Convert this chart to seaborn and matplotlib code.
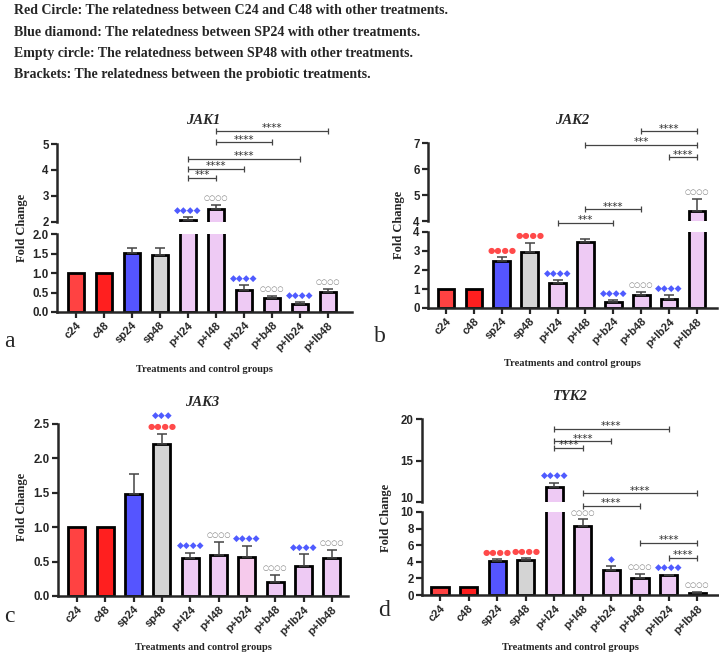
import numpy as np
import matplotlib
matplotlib.use("Agg")
import matplotlib.pyplot as plt
import seaborn as sns

# ---- data ----
groups = ['c24', 'c48', 'sp24', 'sp48', 'p+l24', 'p+l48',
          'p+b24', 'p+b48', 'p+lb24', 'p+lb48']

jak1_mean = [1.0, 1.0, 1.52, 1.47, 2.09, 2.50, 0.57, 0.35, 0.20, 0.51]
jak1_err = [0, 0, 0.13, 0.16, 0.10, 0.14, 0.12, 0.05, 0.05, 0.07]

jak2_mean = [1.0, 1.0, 2.49, 2.97, 1.32, 3.48, 0.31, 0.70, 0.50, 4.40]
jak2_err = [0, 0, 0.19, 0.46, 0.14, 0.17, 0.11, 0.15, 0.18, 0.43]

jak3_mean = [1.0, 1.0, 1.48, 2.21, 0.55, 0.59, 0.57, 0.20, 0.44, 0.55]
jak3_err = [0, 0, 0.30, 0.15, 0.08, 0.19, 0.16, 0.11, 0.17, 0.12]

tyk2_mean = [1.0, 1.0, 4.10, 4.20, 11.77, 8.35, 3.00, 2.00, 2.37, 0.24]
tyk2_err = [0, 0, 0.23, 0.20, 0.57, 0.75, 0.45, 0.50, 0.08, 0.16]

bar_colors = ['#FF4242', '#FF1F1F', '#5555FF', '#D4D4D4', '#EECAF4', '#EECAF4',
              '#EECAF4', '#EECAF4', '#EECAF4', '#EECAF4']
jak3_colors = bar_colors[:6] + ['#F6CAEC'] + bar_colors[7:]

# significance marks: (bar index, symbols, kind, row)
jak1_marks = [(4, '◆◆◆◆', 'b', 0), (5, '○○○○', 'g', 0), (6, '◆◆◆◆', 'b', 0),
              (7, '○○○○', 'g', 0), (8, '◆◆◆◆', 'b', 0), (9, '○○○○', 'g', 0)]
jak2_marks = [(2, '●●●●', 'r', 0), (3, '●●●●', 'r', 0), (4, '◆◆◆◆', 'b', 0),
              (6, '◆◆◆◆', 'b', 0), (7, '○○○○', 'g', 0), (8, '◆◆◆◆', 'b', 0),
              (9, '○○○○', 'g', 0)]
jak3_marks = [(3, '●●●●', 'r', 0), (3, '◆◆◆', 'b', 1), (4, '◆◆◆◆', 'b', 0),
              (5, '○○○○', 'g', 0), (6, '◆◆◆◆', 'b', 0), (7, '○○○○', 'g', 0),
              (8, '◆◆◆◆', 'b', 0), (9, '○○○○', 'g', 0)]
tyk2_marks = [(2, '●●●●', 'r', 0), (3, '●●●●', 'r', 0), (4, '◆◆◆◆', 'b', 0),
              (5, '○○○○', 'g', 0), (6, '◆', 'b', 0), (7, '○○○○', 'g', 0),
              (8, '◆◆◆◆', 'b', 0), (9, '○○○○', 'g', 0)]

# brackets between probiotic treatments: (axis, from, to, height, stars)
jak1_brackets = [('hi', 4, 5, 3.69, '***'), ('hi', 4, 6, 4.03, '****'),
                 ('hi', 4, 8, 4.42, '****'), ('hi', 5, 7, 5.06, '****'),
                 ('hi', 5, 9, 5.49, '****')]
jak2_brackets = [('lo', 4, 6, 4.47, '***'), ('hi', 5, 7, 4.45, '****'),
                 ('hi', 5, 9, 6.94, '***'), ('hi', 7, 9, 7.45, '****'),
                 ('hi', 8, 9, 6.45, '****')]
jak3_brackets = []
tyk2_brackets = [('hi', 4, 8, 18.83, '****'), ('hi', 4, 6, 17.3, '****'),
                 ('hi', 4, 5, 16.5, '****'), ('hi', 5, 9, 11.05, '****'),
                 ('lo', 5, 7, 10.76, '****'), ('lo', 7, 9, 6.3, '****'),
                 ('lo', 8, 9, 4.5, '****')]

header_lines = [
    'Red Circle: The relatedness between C24 and C48 with other treatments.',
    'Blue diamond: The relatedness between SP24 with other treatments.',
    'Empty circle: The relatedness between SP48 with other treatments.',
    'Brackets: The relatedness between the probiotic treatments.',
]

W, H = 719, 655
MARK_COLORS = {'b': '#4F5BFF', 'r': '#FF4A4A', 'g': '#808080'}
MARK_SIZES = {'b': 6.5, 'r': 6.0, 'g': 5.0}
SERIF = 'Liberation Serif'
SANS = 'Liberation Sans'

sns.set_style("ticks")
plt.rcParams['font.family'] = [SANS, 'DejaVu Sans']


def box(left, top, right, bottom):
    """Pixel box -> figure fraction rect."""
    return [left / W, 1 - bottom / H, (right - left) / W, (bottom - top) / H]


def style_axis(ax, ylim, yticks, fmt, xlim, bottom_axis):
    ax.set_ylim(*ylim)
    ax.set_xlim(*xlim)
    ax.set_yticks(yticks)
    ax.set_yticklabels([fmt.format(t) for t in yticks], fontweight='bold',
                       fontsize=8.3, family=SANS)
    for s in ['top', 'right']:
        ax.spines[s].set_visible(False)
    ax.spines['left'].set_linewidth(1.8)
    ax.spines['bottom'].set_linewidth(1.8)
    ax.tick_params(axis='both', direction='out', length=4, width=1.6, pad=2)
    ax.set_ylabel('')
    ax.set_xlabel('')
    if bottom_axis:
        ax.set_xticks(range(len(groups)))
        ax.set_xticklabels(groups, rotation=45, ha='right', rotation_mode='anchor',
                           fontweight='bold', fontsize=8, family=SANS)
    else:
        ax.spines['bottom'].set_visible(False)
        ax.set_xticks([])


def draw_bars(ax, mean, err, colors):
    sns.barplot(x=groups, y=mean, hue=groups, order=groups, hue_order=groups,
                palette=colors, legend=False, width=0.6, edgecolor='black',
                linewidth=2.0, saturation=1, ax=ax)
    idx = [i for i, e in enumerate(err) if e > 0]
    ax.errorbar(idx, [mean[i] for i in idx],
                yerr=[np.zeros(len(idx)), [err[i] for i in idx]],
                fmt='none', ecolor='#444444', elinewidth=1.1, capsize=3.5,
                capthick=1.1, zorder=1)


def draw_panel(fig, rects, ylims, yticks, fmt, xlim, mean, err, colors,
               marks, brackets, title, title_xy, ylabel_xy, xlabel_y, letter_xy,
               letter, tight_break=False):
    axes = {}
    names = ['hi', 'lo'] if len(rects) == 2 else ['lo']
    for name, rect, yl, yt in zip(names, rects, ylims, yticks):
        ax = fig.add_axes(box(*rect))
        draw_bars(ax, mean, err, colors)
        style_axis(ax, yl, yt, fmt if name == 'lo' else '{:.0f}', xlim, name == 'lo')
        ax.patch.set_alpha(0)
        axes[name] = ax

    # the two labels at a narrow break sit almost on top of each other
    if tight_break:
        axes['hi'].get_yticklabels()[0].set_va('baseline')

    lo_top = ylims[-1][1]
    for i, sym, kind, row in marks:
        top = mean[i] + err[i]
        ax = axes['hi'] if ('hi' in axes and top > lo_top) else axes['lo']
        ax.annotate(sym, (i, top), xytext=(0, 5 + 8 * row), textcoords='offset points',
                    ha='center', va='center', color=MARK_COLORS[kind],
                    fontsize=MARK_SIZES[kind], family='DejaVu Sans',
                    annotation_clip=False)

    for which, i, j, y, stars in brackets:
        ax = axes[which]
        ax.plot([i, j], [y, y], color='#444444', lw=0.9, clip_on=False)
        ax.plot([i, j], [y, y], ls='none', marker='|', ms=5, mew=0.9,
                color='#444444', clip_on=False)
        ax.annotate(stars, ((i + j) / 2, y), xytext=(0, 2.0), textcoords='offset points',
                    ha='center', va='center', fontsize=7.5, color='#333333',
                    family='DejaVu Sans', annotation_clip=False)

    fig.text(title_xy[0] / W, 1 - title_xy[1] / H, title, family=SERIF,
             fontweight='bold', fontstyle='italic', fontsize=10.5, ha='center', va='center')
    fig.text(ylabel_xy[0] / W, 1 - ylabel_xy[1] / H, 'Fold Change', family=SERIF,
             fontweight='bold', fontsize=9, rotation=90, ha='center', va='center')
    left, right = rects[0][0], rects[0][2]
    fig.text((left + right) / 2 / W, 1 - xlabel_y / H, 'Treatments and control groups',
             family=SERIF, fontweight='bold', fontsize=7.5, ha='center', va='center')
    fig.text(letter_xy[0] / W, 1 - letter_xy[1] / H, letter, family=SERIF,
             fontsize=17, ha='center', va='center')


def main():
    fig = plt.figure(figsize=(W / 100, H / 100), dpi=100)

    for k, line in enumerate(header_lines):
        fig.text(14 / W, 1 - (11 + 21.2 * k) / H, line, family=SERIF,
                 fontweight='bold', fontsize=10, ha='left', va='center')

    # JAK1
    draw_panel(fig, [(57, 144, 352, 222), (57, 234, 352, 312)],
               [(2, 5), (0, 2)], [[2, 3, 4, 5], [0, 0.5, 1.0, 1.5, 2.0]], '{:.1f}',
               (-0.68, 9.86), jak1_mean, jak1_err, bar_colors, jak1_marks,
               jak1_brackets, 'JAK1', (203, 120), (22, 228), 369, (9, 341), 'a')
    # JAK2
    draw_panel(fig, [(428, 143, 717, 221), (428, 232, 717, 308)],
               [(4, 7), (0, 4)], [[4, 5, 6, 7], [0, 1, 2, 3, 4]], '{:.0f}',
               (-0.65, 9.72), jak2_mean, jak2_err, bar_colors, jak2_marks,
               jak2_brackets, 'JAK2', (572, 120), (399, 225), 364, (380, 336), 'b')
    # JAK3
    draw_panel(fig, [(58, 424, 348, 596)],
               [(0, 2.5)], [[0, 0.5, 1.0, 1.5, 2.0, 2.5]], '{:.1f}',
               (-0.67, 9.57), jak3_mean, jak3_err, jak3_colors, jak3_marks,
               jak3_brackets, 'JAK3', (202, 402), (22, 507), 648, (9, 616), 'c')
    # TYK2
    draw_panel(fig, [(422, 419, 718, 502), (422, 512, 718, 595)],
               [(10, 20), (0, 10)], [[10, 15, 20], [0, 2, 4, 6, 8, 10]], '{:.0f}',
               (-0.63, 9.73), tyk2_mean, tyk2_err, bar_colors, tyk2_marks,
               tyk2_brackets, 'TYK2', (570, 397), (386, 518), 648, (384, 610), 'd',
               tight_break=True)

    fig.savefig('out.png', dpi=100)


if __name__ == "__main__":
    main()
